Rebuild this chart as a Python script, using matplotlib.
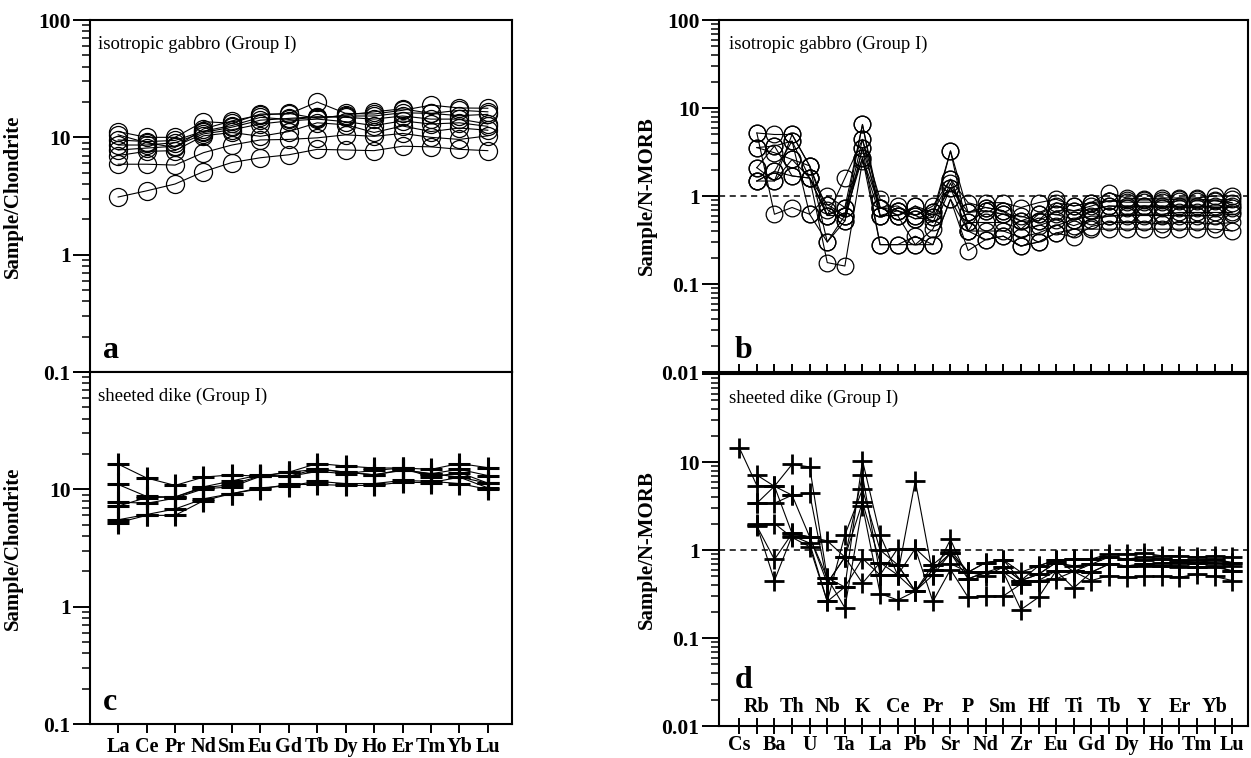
#!/usr/bin/env python3
"""Chondrite- and N-MORB-normalised patterns, isotropic gabbro and sheeted dike."""

import numpy as np
import matplotlib

matplotlib.use("Agg")
import matplotlib.pyplot as plt
from matplotlib.ticker import FixedFormatter, FixedLocator, LogLocator, NullFormatter
from matplotlib.transforms import blended_transform_factory

nan = np.nan

ree_labels = ["La", "Ce", "Pr", "Nd", "Sm", "Eu", "Gd", "Tb", "Dy", "Ho", "Er", "Tm", "Yb", "Lu"]
spider_labels = [
    "Cs", "Rb", "Ba", "Th", "U", "Nb", "Ta", "K", "La", "Ce", "Pb", "Pr", "Sr", "P", "Nd",
    "Sm", "Zr", "Hf", "Eu", "Ti", "Gd", "Tb", "Dy", "Y", "Ho", "Er", "Tm", "Yb", "Lu",
]

# panel a: isotropic gabbro, sample/chondrite
gabbro_ree = [
    [3.1, 3.5, 4.0, 5.1, 6.1, 6.7, 7.1, 7.9, 7.8, 7.7, 8.4, 8.3, 7.9, 7.7],
    [5.9, 5.9, 5.8, 7.4, 8.6, 9.5, 9.6, 9.9, 10.5, 10.2, 10.8, 10.0, 9.6, 10.3],
    [7.0, 7.6, 7.7, 10.3, 11.0, 10.2, 11.2, 13.3, 12.8, 11.0, 12.5, 11.2, 12.0, 11.5],
    [7.8, 8.1, 8.4, 10.7, 11.6, 13.0, 13.8, 14.3, 13.6, 12.6, 13.8, 13.0, 13.3, 12.4],
    [8.6, 8.6, 9.0, 11.0, 12.2, 14.0, 14.5, 15.0, 14.8, 14.3, 15.2, 14.3, 14.3, 13.0],
    [9.5, 9.2, 9.4, 11.3, 12.6, 14.8, 14.2, 14.8, 15.2, 15.2, 16.2, 16.0, 15.3, 15.7],
    [11.2, 10.0, 10.0, 13.6, 13.2, 15.8, 15.8, 20.0, 16.0, 15.8, 17.0, 18.8, 17.8, 17.7],
    [10.5, 9.0, 8.2, 11.8, 13.8, 15.5, 16.0, 14.5, 15.5, 16.5, 17.5, 16.0, 17.0, 16.5],
]

# panel c: sheeted dike, sample/chondrite
dike_ree = [
    [16.4, 12.5, 10.8, 12.7, 13.3, 12.9, 14.0, 16.6, 15.8, 15.2, 15.2, 14.8, 16.6, 15.3],
    [11.0, 8.7, 8.6, 10.5, 11.8, 13.3, 12.9, 15.0, 14.0, 13.3, 14.7, 13.6, 14.8, 13.1],
    [7.8, 7.6, 8.4, 10.1, 10.5, 12.9, 12.9, 14.2, 13.6, 14.5, 15.2, 12.7, 13.9, 11.3],
    [7.2, 8.5, 8.6, 10.3, 11.0, 13.0, 14.0, 14.8, 14.0, 13.3, 14.5, 13.6, 12.7, 10.3],
    [5.5, 6.1, 6.8, 8.3, 9.2, 10.3, 10.7, 11.7, 11.2, 11.2, 11.9, 11.7, 11.2, 10.0],
    [5.2, 6.0, 6.0, 8.0, 9.2, 10.1, 11.0, 11.0, 10.8, 10.8, 11.5, 11.4, 12.7, 11.3],
]

# panel b: isotropic gabbro, sample/N-MORB
gabbro_spider = [
    [nan, 5.2, 5.0, 5.0, 2.2, 0.6, 0.74, 6.5, 0.74, 0.68, 0.55, 0.57, 3.25, 0.65, 0.74,
     0.68, 0.52, 0.62, 0.77, 0.68, 0.77, 0.88, 0.85, 0.85, 0.85, 0.88, 0.88, 0.88, 0.84],
    [nan, 3.55, 3.7, 4.2, 1.6, 0.8, 0.6, 4.4, 0.6, 0.6, 0.77, 0.65, 1.55, 0.5, 0.68,
     0.62, 0.59, 0.52, 0.84, 0.77, 0.84, 1.09, 0.95, 0.92, 0.95, 0.95, 0.95, 1.0, 1.0],
    [nan, 5.2, 0.62, 0.74, 0.62, 0.30, 0.6, 2.7, 0.28, 0.28, 0.35, 0.28, 0.92, 0.24, 0.32,
     0.35, 0.27, 0.30, 0.38, 0.42, 0.42, 0.42, 0.42, 0.42, 0.42, 0.42, 0.42, 0.42, 0.40],
    [nan, 1.48, 1.9, 1.69, 1.6, 0.175, 0.16, 2.5, 0.6, 0.6, 0.28, 0.42, 1.24, 0.40, 0.40,
     0.40, 0.34, 0.38, 0.46, 0.54, 0.59, 0.59, 0.6, 0.6, 0.6, 0.6, 0.6, 0.6, 0.62],
    [nan, 2.1, 1.48, 5.0, 2.2, 0.7, 0.52, 3.5, 0.74, 0.77, 0.6, 0.77, 1.55, 0.84, 0.74,
     0.68, 0.42, 0.62, 0.62, 0.54, 0.68, 0.77, 0.77, 0.77, 0.74, 0.77, 0.77, 0.74, 0.74],
    [nan, 3.55, 3.1, 2.6, 1.6, 0.6, 1.6, 4.4, 0.92, 0.68, 0.55, 0.65, 3.25, 0.4, 0.84,
     0.84, 0.74, 0.84, 0.92, 0.77, 0.84, 0.88, 0.9, 0.9, 0.9, 0.92, 0.92, 0.9, 0.92],
    [nan, 1.48, 1.9, 4.2, 0.62, 1.0, 0.74, 2.7, 0.74, 0.6, 0.77, 0.57, 1.24, 0.65, 0.68,
     0.62, 0.52, 0.52, 0.68, 0.68, 0.7, 0.77, 0.74, 0.77, 0.77, 0.74, 0.74, 0.77, 0.77],
    [nan, 2.1, 3.7, 1.69, 1.6, 0.6, 0.6, 6.5, 0.6, 0.68, 0.6, 0.5, 1.4, 0.5, 0.5,
     0.5, 0.42, 0.46, 0.54, 0.46, 0.54, 0.59, 0.62, 0.62, 0.62, 0.65, 0.65, 0.65, 0.65],
    [nan, 1.48, 1.48, 2.6, 2.2, 0.30, 0.52, 3.5, 0.28, 0.28, 0.28, 0.28, 0.92, 0.40, 0.32,
     0.35, 0.27, 0.30, 0.38, 0.34, 0.45, 0.5, 0.5, 0.5, 0.48, 0.5, 0.5, 0.48, 0.5],
]

# panel d: sheeted dike, sample/N-MORB
dike_spider = [
    [14.6, 5.4, 5.3, 1.54, 1.41, 1.27, 0.83, 3.5, 0.72, 0.68, 0.34, 0.6, 0.92, 0.56, 0.72,
     0.77, 0.45, 0.53, 0.72, 0.79, 0.79, 0.90, 0.90, 0.92, 0.86, 0.86, 0.83, 0.86, 0.83],
    [nan, 7.1, 5.3, 9.4, 8.8, 0.48, 0.38, 10.4, 1.48, 0.52, 6.1, 0.52, 1.32, 0.47, 0.56,
     0.56, 0.41, 0.45, 0.58, 0.57, 0.56, 0.69, 0.66, 0.69, 0.66, 0.66, 0.64, 0.66, 0.58],
    [nan, 3.4, 3.4, 4.2, 4.4, 0.42, 0.83, 7.1, 0.52, 1.04, 1.04, 0.68, 1.0, 0.56, 0.72,
     0.77, 0.56, 0.66, 0.77, 0.79, 0.79, 0.83, 0.79, 0.83, 0.79, 0.76, 0.77, 0.79, 0.72],
    [nan, 1.97, 2.0, 1.39, 1.09, 0.26, 1.48, 4.9, 1.0, 0.68, 0.34, 0.68, 0.7, 0.56, 0.51,
     0.64, 0.45, 0.53, 0.72, 0.66, 0.69, 0.69, 0.66, 0.69, 0.72, 0.72, 0.72, 0.72, 0.66],
    [nan, 1.87, 0.78, 1.54, 1.41, 0.48, 0.22, 3.2, 0.32, 0.27, 0.34, 0.6, 0.92, 0.47, 0.56,
     0.56, 0.21, 0.29, 0.58, 0.37, 0.56, 0.69, 0.66, 0.66, 0.66, 0.64, 0.64, 0.64, 0.58],
    [nan, 1.9, 0.45, 1.45, 1.2, 0.26, 0.38, 0.8, 0.52, 0.52, 1.04, 0.26, 0.6, 0.29, 0.30,
     0.30, 0.41, 0.45, 0.47, 0.57, 0.45, 0.51, 0.49, 0.50, 0.50, 0.49, 0.53, 0.50, 0.45],
    [nan, 3.4, 5.3, 4.2, 1.41, 0.42, 0.83, 0.42, 0.72, 0.52, 0.34, 0.52, 0.92, 0.56, 0.56,
     0.64, 0.45, 0.66, 0.77, 0.57, 0.69, 0.83, 0.79, 0.77, 0.79, 0.76, 0.72, 0.77, 0.72],
]

plt.rcParams["font.family"] = ["Liberation Serif", "DejaVu Serif"]
plt.rcParams["font.weight"] = "bold"

W, H = 1251, 758
fig = plt.figure(figsize=(W / 100, H / 100), dpi=100)


def add_axes(x0, y0, x1, y1):
    return fig.add_axes([x0 / W, 1 - y1 / H, (x1 - x0) / W, (y1 - y0) / H])


ax_a = add_axes(90, 20, 512, 372)
ax_c = add_axes(90, 372, 512, 724)
ax_b = add_axes(719, 20, 1248, 372)
ax_d = add_axes(719, 374, 1248, 726)


def style_y(ax, ticks, labels, ylabel, label_x):
    ax.set_yscale("log")
    ax.set_ylim(ticks[0], ticks[-1])
    ax.yaxis.set_major_locator(FixedLocator(ticks))
    ax.yaxis.set_major_formatter(FixedFormatter(labels))
    ax.yaxis.set_minor_locator(LogLocator(base=10, subs=np.arange(2, 10)))
    ax.yaxis.set_minor_formatter(NullFormatter())
    ax.tick_params(axis="y", which="major", direction="out", length=12.5, width=1.4,
                   labelsize=15.5, pad=1.5)
    ax.tick_params(axis="y", which="minor", direction="out", length=5.5, width=1.1)
    ax.set_ylabel(ylabel, fontsize=15, fontweight="bold")
    ax.yaxis.set_label_coords(label_x, 0.5)
    for spine in ax.spines.values():
        spine.set_linewidth(1.5)


def panel_text(ax, name, letter, letter_y=0.04):
    ax.text(0.018, 0.955, name, transform=ax.transAxes, fontsize=13.5,
            fontweight="normal", ha="left", va="top")
    ax.text(0.03, letter_y, letter, transform=ax.transAxes, fontsize=23,
            ha="left", va="baseline")


x_ree = np.arange(len(ree_labels))
x_sp = np.arange(len(spider_labels))

circle = dict(color="black", lw=0.8, marker="o", mfc="none", mec="black", mew=0.9)
plus = dict(color="black", lw=0.8, marker="+", mec="black")

for row in gabbro_ree:
    ax_a.plot(x_ree, row, ms=13, **circle)
for row in dike_ree:
    ax_c.plot(x_ree, row, ms=16, mew=2.2, **plus)
for row in gabbro_spider:
    ax_b.plot(x_sp, row, ms=12, **circle)
for row in dike_spider:
    ax_d.plot(x_sp, row, ms=14.5, mew=2.0, **plus)

style_y(ax_a, [0.1, 1, 10, 100], ["0.1", "1", "10", "100"], "Sample/Chondrite", -0.16)
style_y(ax_c, [0.1, 1, 10, 100], ["0.1", "1", "10", ""], "Sample/Chondrite", -0.16)
style_y(ax_b, [0.01, 0.1, 1, 10, 100], ["0.01", "0.1", "1", "10", "100"],
        "Sample/N-MORB", -0.118)
style_y(ax_d, [0.01, 0.1, 1, 10, 100], ["0.01", "0.1", "1", "10", ""],
        "Sample/N-MORB", -0.118)

for ax in (ax_a, ax_c):
    ax.set_xlim(-0.99, len(ree_labels) - 0.15)
    ax.set_xticks(x_ree)
ax_a.tick_params(axis="x", direction="out", length=6, width=1.4, labelbottom=False)
ax_c.set_xticklabels(ree_labels)
ax_c.tick_params(axis="x", direction="out", length=6.5, width=1.4, labelsize=14.5, pad=3)

for ax in (ax_b, ax_d):
    ax.set_xlim(-1.15, len(spider_labels) - 0.1)
    ax.set_xticks(x_sp)
    ax.axhline(1, color="black", lw=1.1, ls=(0, (4, 3)))
ax_b.tick_params(axis="x", direction="inout", length=11, width=1.4, labelbottom=False)
ax_d.set_xticklabels([lab if i % 2 == 0 else "" for i, lab in enumerate(spider_labels)])
ax_d.tick_params(axis="x", direction="inout", length=11, width=1.4, labelsize=14.5, pad=1)
row_tr = blended_transform_factory(ax_d.transData, ax_d.transAxes)
for i, lab in enumerate(spider_labels):
    if i % 2 == 1:
        ax_d.text(i, 0.054, lab, transform=row_tr, fontsize=14.5, ha="center", va="center")

panel_text(ax_a, "isotropic gabbro (Group I)", "a")
panel_text(ax_b, "isotropic gabbro (Group I)", "b")
panel_text(ax_c, "sheeted dike (Group I)", "c")
panel_text(ax_d, "sheeted dike (Group I)", "d", letter_y=0.108)

fig.savefig("out.png", dpi=100)
